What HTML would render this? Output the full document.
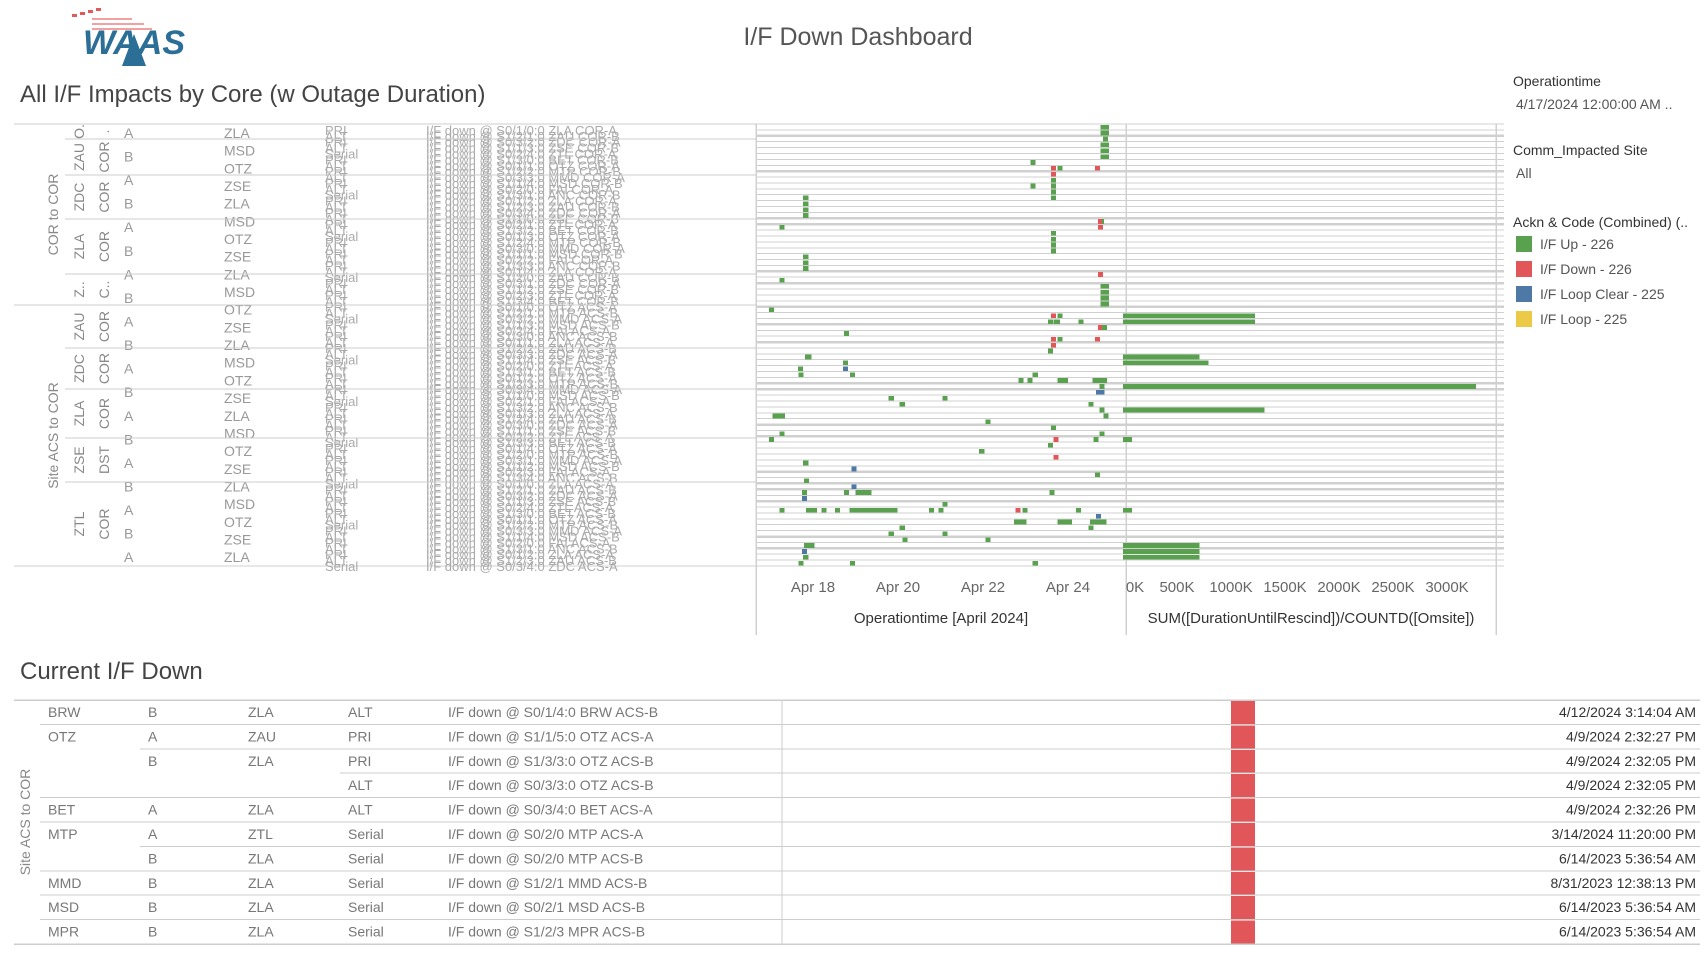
<!DOCTYPE html>
<html><head><meta charset="utf-8"><style>
body{margin:0;width:1708px;height:960px;background:#fff;overflow:hidden;font-family:"Liberation Sans",sans-serif;color:#555;position:relative}
.abs{position:absolute;white-space:nowrap}
svg text{font-family:"Liberation Sans",sans-serif}
</style></head><body>
<svg class="abs" style="left:62px;top:4px" width="150" height="64" viewBox="0 0 150 64">
<g fill="#e05a5a"><rect x="10" y="10" width="5" height="3"/><rect x="18" y="8" width="5" height="3"/><rect x="26" y="6" width="5" height="3"/><rect x="34" y="4" width="5" height="3"/></g>
<g fill="#f2a0a0"><rect x="30" y="14" width="40" height="2"/><rect x="30" y="19" width="52" height="2"/><rect x="30" y="24" width="60" height="2"/></g>
<text x="72" y="50" font-size="34" font-weight="bold" font-style="italic" fill="#2b6e96" text-anchor="middle" font-family="Liberation Sans">WAAS</text>
<polygon points="60,62 72,30 84,62" fill="#2b6e96"/>
</svg>
<div class="abs" style="left:0;width:1716px;text-align:center;top:23px;font-size:25px;color:#555">I/F Down Dashboard</div>
<div class="abs" style="left:20px;top:81px;font-size:24px;color:#444">All I/F Impacts by Core (w Outage Duration)</div>
<div class="abs" style="left:20px;top:658px;font-size:24px;color:#444">Current I/F Down</div>

<div class="abs" style="left:1513px;top:73px;font-size:14px;color:#333">Operationtime</div>
<div class="abs" style="left:1516px;top:96px;font-size:14px;color:#555">4/17/2024 12:00:00 AM ..</div>
<div class="abs" style="left:1513px;top:142px;font-size:14px;color:#333">Comm_Impacted Site</div>
<div class="abs" style="left:1516px;top:165px;font-size:14px;color:#555">All</div>
<div class="abs" style="left:1513px;top:214px;font-size:14px;color:#333">Ackn &amp; Code (Combined) (..</div>
<div id="legend"></div>

<svg id="chart" class="abs" style="left:0;top:0" width="1708" height="960" shape-rendering="crispEdges"></svg>

<script>
const NS="http://www.w3.org/2000/svg";
const svg=document.getElementById('chart');
function mk(tag,attrs,parent){const e=document.createElementNS(NS,tag);for(const k in attrs)e.setAttribute(k,attrs[k]);(parent||svg).appendChild(e);return e;}

const legendLabels=["I/F Up - 226","I/F Down - 226","I/F Loop Clear - 225","I/F Loop - 225"];
const legendColors=["#59a14f","#e15759","#4e79a7","#edc948"];
const lg=document.getElementById('legend');
legendLabels.forEach((l,i)=>{
  const d=document.createElement('div');
  d.className='abs';
  d.style.cssText=`left:1516px;top:${236+i*25}px;font-size:14px;color:#555`;
  d.innerHTML=`<span style="display:inline-block;width:16px;height:16px;background:${legendColors[i]};vertical-align:-3px;margin-right:8px"></span>${l}`;
  
  
  lg.appendChild(d);
});

const NROWS=75;
const markDays=[24.77,24.77,24.82,24.77,24.77,24.77,24.77,24.77,23.12,23.60,23.75,24.63,23.60,23.12,23.60,23.60,23.60,23.60,17.77,17.77,17.77,17.77,24.73,24.70,17.21,24.70,23.60,23.60,23.60,23.60,17.77,17.77,17.77,17.77,24.70,17.21,24.77,24.77,24.77,24.77,16.96,23.60,23.75,23.66,24.25,23.53,24.70,24.70,18.73,23.60,23.75,24.63,23.60,23.53,17.81,18.70,18.70,17.65,17.66,18.87,23.17,22.83,23.05,23.75,24.58,24.74,24.66,19.78,21.05,20.04,24.48,24.74,17.05,24.83,22.06,23.60,24.74,24.74,17.21,16.96,23.66,24.60,23.53,21.91,23.66,17.77,18.90,24.63,17.79,18.90,18.73,19.00,23.56,17.74,17.74,21.05,17.21,17.84,18.20,18.52,18.86,19.58,20.73,20.95,22.76,22.93,24.19,24.66,22.73,23.75,24.52,20.04,24.48,19.78,21.05,20.10,22.06,17.79,17.84,17.74,17.77,17.66,18.87,23.17];
const markDur=[0.2,0.2,0.12,0.2,0.2,0.2,0.2,0.2,0.12,0.12,0.12,0.12,0.12,0.12,0.12,0.12,0.12,0.12,0.12,0.12,0.12,0.12,0.12,0.06,0.12,0.12,0.12,0.12,0.12,0.12,0.12,0.12,0.12,0.12,0.12,0.12,0.2,0.2,0.2,0.2,0.12,0.12,0.12,0.15,0.12,0.12,0.22,0.06,0.12,0.12,0.12,0.12,0.12,0.12,0.15,0.12,0.12,0.12,0.12,0.12,0.12,0.12,0.12,0.25,0.34,0.12,0.2,0.12,0.12,0.12,0.12,0.12,0.29,0.12,0.12,0.12,0.12,0.12,0.12,0.12,0.12,0.12,0.12,0.12,0.12,0.12,0.12,0.12,0.12,0.12,0.12,0.38,0.12,0.12,0.12,0.12,0.12,0.25,0.12,0.12,0.73,0.41,0.12,0.12,0.12,0.12,0.12,0.12,0.29,0.34,0.38,0.12,0.12,0.12,0.12,0.12,0.12,0.2,0.2,0.12,0.12,0.12,0.12,0.12];
const markRow=[0,1,2,3,3,3,4,5,6,7,7,7,8,10,9,10,11,12,12,13,14,15,16,16,17,17,18,19,20,21,22,23,23,24,25,26,27,28,29,30,31,32,32,33,33,33,34,34,35,36,36,36,37,38,39,40,41,41,42,42,42,43,43,43,43,44,45,46,46,47,47,48,49,49,50,51,52,52,52,53,53,53,54,55,56,57,58,59,60,61,62,62,62,62,63,64,65,65,65,65,65,65,65,65,65,65,65,66,67,67,67,68,68,69,69,70,70,71,71,72,73,74,74,74];
const markCode=[0,0,0,0,0,0,0,0,0,1,0,1,1,0,0,0,0,0,0,0,0,0,0,1,0,1,0,0,0,0,0,0,0,0,1,0,0,0,0,0,0,1,0,0,0,0,0,1,0,1,0,1,1,0,0,0,2,0,0,0,0,0,0,0,0,0,2,0,0,0,0,0,0,0,0,0,1,0,0,0,1,0,0,0,1,0,2,0,0,2,0,0,0,0,2,0,0,0,0,0,0,0,0,0,1,0,0,2,0,0,0,0,0,0,0,0,0,0,0,2,0,0,0,0];
const barRows=[32,33,39,40,44,48,53,65,71,72,73];
const barValues=[1222,1222,707,790,3270,1312,85,85,707,707,707];
const dateTicks=[18,20,22,24];
const valueTicks=[0,500,1000,1500,2000,2500,3000];

const TOP=124,BOT=566,ROWH=(BOT-TOP)/NROWS;
const DX0=756,DX1=1126,BX0=1126,BX1=1496;
const xDate=d=>813+(d-18)*42.5;
const xVal=v=>1123+v*0.108;
const yRow=r=>TOP+r*ROWH;

const thick=new Set([2,8,16,17,25,27,31,34,37,44,45,51,53,59,61,62,64,70,72]);
for(let r=0;r<=NROWS;r++){
  const y=yRow(r);
  const l=mk('line',{x1:DX0,x2:BX1+8,y1:y,y2:y,stroke:'#d0d0d0','stroke-width':thick.has(r)?2.5:1});
  
}
[[DX0,TOP,DX0,635],[DX1,TOP,DX1,635],[BX1,TOP,BX1,635]].forEach(a=>{
  const l=mk('line',{x1:a[0],y1:a[1],x2:a[2],y2:a[3],stroke:'#d0d0d0','stroke-width':1.5});
  
});
mk('line',{x1:14,x2:DX0,y1:566,y2:566,stroke:'#d0d0d0','stroke-width':1});

dateTicks.forEach(d=>{
  const t=mk('text',{x:xDate(d),y:592,'text-anchor':'middle','font-size':15,fill:'#666'});
  t.textContent='Apr '+d;
  
});
const dt=mk('text',{x:941,y:623,'text-anchor':'middle','font-size':15,fill:'#333'});dt.textContent='Operationtime [April 2024]';

valueTicks.forEach(v=>{
  const t=mk('text',{x:xVal(v)+(v===0?12:0),y:592,'text-anchor':'middle','font-size':15,fill:'#666'});
  t.textContent=v+'K';
  
});
const vt=mk('text',{x:1311,y:623,'text-anchor':'middle','font-size':15,fill:'#333'});vt.textContent='SUM([DurationUntilRescind])/COUNTD([Omsite])';


markDays.forEach((d,i)=>{
  const x=xDate(d),w=Math.max(4,markDur[i]*42.5);
  const m=mk('rect',{x:x,y:yRow(markRow[i])+0.8,width:w,height:ROWH-1.2,fill:legendColors[markCode[i]]});
  
});
barRows.forEach((r,i)=>{
  const b=mk('rect',{x:xVal(0),y:yRow(r)+0.8,width:xVal(barValues[i])-xVal(0),height:ROWH-1.2,fill:'#59a14f'});
  
});

const ports=["PRI","ALT","PRI","ALT","Serial","PRI","ALT"];
const sites=["ZLA","ZAU","ZDC","ZSE","ZTL","BET","OTZ","MTP","MMD","MSD","FAI","ANC"];
const hdr=mk('g',{fill:'#999','font-size':14});
for(let r=0;r<NROWS;r++){
  const y=yRow(r)+ROWH+5;
  const a=mk('text',{x:325,y:y,fill:'#aaa','font-size':13},hdr);a.textContent=ports[r%ports.length];
  const b=mk('text',{x:426,y:y,fill:'#aaa','font-size':13},hdr);
  b.textContent='I/F down @ S'+(r%2)+'/'+(r%3+1)+'/'+(r%5)+':0 '+sites[r%sites.length]+(r<30?' COR-':' ACS-')+(r%2?'B':'A');
  if(r%3===0){const c=mk('text',{x:224,y:y+3,fill:'#999','font-size':14},hdr);c.textContent=sites[(r*7)%sites.length];}
  if(r%4===0){const c=mk('text',{x:124,y:y+3,fill:'#999','font-size':14},hdr);c.textContent=r%8?'B':'A';}
}
function vlabel(txt,x,y1,y2,name,size){
  const t=mk('text',{x:0,y:0,'text-anchor':'middle','font-size':size||14,fill:'#888',transform:`translate(${x},${(y1+y2)/2}) rotate(-90)`});
  t.textContent=txt;
}
vlabel('COR to COR',58,124,305,'group-cor-to-cor');
vlabel('Site ACS to COR',58,305,566,'group-site-acs-to-cor');
const c2=[['O.',124,139],['ZAU',139,175],['ZDC',175,219],['ZLA',219,274],['Z..',274,305],['ZAU',305,348],['ZDC',348,389],['ZLA',389,438],['ZSE',438,482],['ZTL',482,566]];
const c3=['.','COR','COR','COR','C..','COR','COR','COR','DST','COR'];
c2.forEach((g,i)=>{
  vlabel(g[0],84,g[1],g[2],'core-label');
  vlabel(c3[i],109,g[1],g[2],'type-label');
  const l=mk('line',{x1:i===0||i===5?14:65,x2:DX0,y1:g[1],y2:g[1],stroke:'#ccc','stroke-width':1});
  
});

const tSite=["BRW","OTZ","","","BET","MTP","","MMD","MSD","MPR"];
const tAB=["B","A","B","","A","A","B","B","B","B"];
const tCore=["ZLA","ZAU","ZLA","","ZLA","ZTL","ZLA","ZLA","ZLA","ZLA"];
const tPort=["ALT","PRI","PRI","ALT","ALT","Serial","Serial","Serial","Serial","Serial"];
const tMsg=["I/F down @ S0/1/4:0 BRW ACS-B","I/F down @ S1/1/5:0 OTZ ACS-A","I/F down @ S1/3/3:0 OTZ ACS-B","I/F down @ S0/3/3:0 OTZ ACS-B","I/F down @ S0/3/4:0 BET ACS-A","I/F down @ S0/2/0 MTP ACS-A","I/F down @ S0/2/0 MTP ACS-B","I/F down @ S1/2/1 MMD ACS-B","I/F down @ S0/2/1 MSD ACS-B","I/F down @ S1/2/3 MPR ACS-B"];
const tTime=["4/12/2024 3:14:04 AM","4/9/2024 2:32:27 PM","4/9/2024 2:32:05 PM","4/9/2024 2:32:05 PM","4/9/2024 2:32:26 PM","3/14/2024 11:20:00 PM","6/14/2023 5:36:54 AM","8/31/2023 12:38:13 PM","6/14/2023 5:36:54 AM","6/14/2023 5:36:54 AM"];
const TT=700,TRH=24.4;
mk('line',{x1:14,x2:1700,y1:TT,y2:TT,stroke:'#ccc','stroke-width':1.5});
const lineStart=[40,140,340,40,40,140,40,40,40,14];
for(let i=0;i<10;i++){
  const y=TT+i*TRH, ty=y+17;
  [[tSite[i],48],[tAB[i],148],[tCore[i],248],[tPort[i],348],[tMsg[i],448]].forEach(c=>{
    if(!c[0])return;
    const t=mk('text',{x:c[1],y:ty,'font-size':14,fill:'#777'});t.textContent=c[0];
    
  });
  const tm=mk('text',{x:1696,y:ty,'font-size':14,fill:'#333','text-anchor':'end'});tm.textContent=tTime[i];
  
  const rb=mk('rect',{x:1231,y:y+1,width:24,height:TRH-1,fill:'#e15759'});
  
  const yl=y+TRH;
  mk('line',{x1:i===9?14:lineStart[i],x2:1700,y1:yl,y2:yl,stroke:'#ccc','stroke-width':i===9?1.5:1});
}
mk('line',{x1:782,x2:782,y1:TT,y2:TT+10*TRH,stroke:'#ccc','stroke-width':1});
vlabel('Site ACS to COR',30,TT,TT+10*TRH,'table-group-label',14);
</script>
</body></html>
